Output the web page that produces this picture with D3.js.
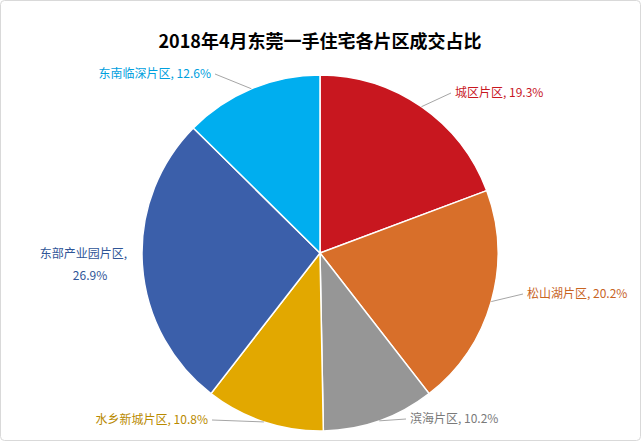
<!DOCTYPE html>
<html><head><meta charset="utf-8">
<script src="https://cdn.jsdelivr.net/npm/d3@7"></script>
<style>body{margin:0;background:#fff}text{font-family:"Noto Sans CJK SC","Noto Sans",sans-serif}</style>
</head><body>
<svg width="641" height="441"></svg>
<script>
// data
var names = ["城区片区", "松山湖片区", "滨海片区", "水乡新城片区", "东部产业园片区", "东南临深片区"];
var shares = [19.3, 20.2, 10.2, 10.8, 26.9, 12.6];
var colors = ["#C8171F", "#D86F2A", "#969696", "#E2A800", "#3B5FAA", "#00AEEF"];
var labelColors = ["#C8171F", "#C8641F", "#7a7a7a", "#B98A00", "#2F5597", "#00A0DE"];

var svg = d3.select("svg");
var cx = 320, cy = 253, r = 178;

svg.append("rect").attr("x", 0.5).attr("y", 0.5).attr("width", 640).attr("height", 440)
  .attr("rx", 4).attr("fill", "#fff").attr("stroke", "#d9d9d9");

svg.append("text").attr("x", 320).attr("y", 48).attr("text-anchor", "middle")
  .attr("font-size", 18).attr("font-weight", "bold").attr("fill", "#000")
  .text("2018年4月东莞一手住宅各片区成交占比");

var pie = d3.pie().sort(null).value(function(d) { return d; });
var arcs = pie(shares);
var arc = d3.arc().innerRadius(0).outerRadius(r);
var g = svg.append("g").attr("transform", "translate(" + cx + "," + cy + ")");

g.selectAll("path").data(arcs).enter().append("path")
  .attr("d", arc).attr("fill", function(d, i) { return colors[i]; })
  .attr("stroke", "#fff").attr("stroke-width", 1.5);

// label anchors: [x, y, anchor, line end x, line end y] relative to centre
var lab = [
  [135, -156, "start", 131, -160],
  [207, 45, "start", 203, 41],
  [90, 170, "start", 86, 166],
  [-112, 171, "end", -108, 167],
  [-193, 5, "end", null, null],
  [-109, -175, "end", -105, -179]
];

arcs.forEach(function(d, i) {
  var mid = (d.startAngle + d.endAngle) / 2;
  var ex = Math.sin(mid) * r, ey = -Math.cos(mid) * r;
  var L = lab[i];
  if (L[3] !== null) {
    g.append("line").attr("x1", ex).attr("y1", ey).attr("x2", L[3]).attr("y2", L[4])
      .attr("stroke", "#a6a6a6").attr("stroke-width", 1);
  }
  var t = g.append("text").attr("x", L[0]).attr("y", L[1]).attr("text-anchor", L[2])
    .attr("font-size", 12).attr("fill", labelColors[i]);
  if (i === 4) {
    t.text(names[i] + ",");
    g.append("text").attr("x", -230).attr("y", L[1] + 22).attr("text-anchor", "middle")
      .attr("font-size", 12).attr("fill", labelColors[i]).text(shares[i] + "%");
  } else {
    t.text(names[i] + ", " + shares[i] + "%");
  }
});
</script>
</body></html>
